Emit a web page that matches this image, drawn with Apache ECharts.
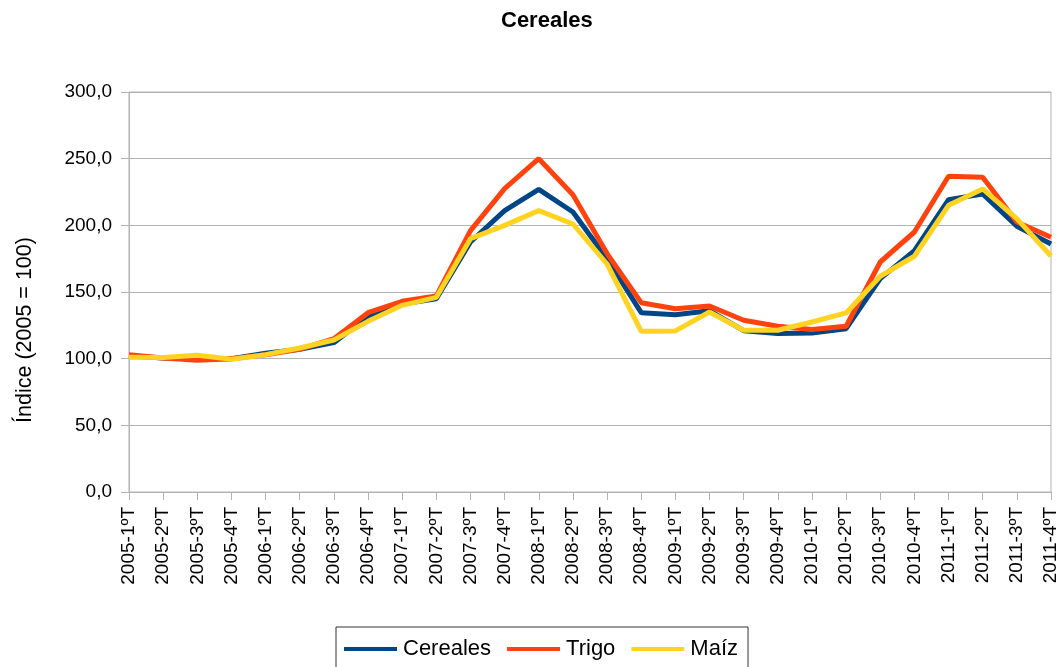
<!DOCTYPE html>
<html>
<head>
<meta charset="utf-8">
<script src="https://cdn.jsdelivr.net/npm/echarts@6/dist/echarts.min.js"></script>
<style>
  html, body { margin: 0; padding: 0; background: #fff; }
  #chart { width: 1063px; height: 667px; }
</style>
</head>
<body>
<div id="chart"></div>
<script>
// trimestres
const categories = [
  '2005-1ºT', '2005-2ºT', '2005-3ºT', '2005-4ºT',
  '2006-1ºT', '2006-2ºT', '2006-3ºT', '2006-4ºT',
  '2007-1ºT', '2007-2ºT', '2007-3ºT', '2007-4ºT',
  '2008-1ºT', '2008-2ºT', '2008-3ºT', '2008-4ºT',
  '2009-1ºT', '2009-2ºT', '2009-3ºT', '2009-4ºT',
  '2010-1ºT', '2010-2ºT', '2010-3ºT', '2010-4ºT',
  '2011-1ºT', '2011-2ºT', '2011-3ºT', '2011-4ºT'
];

const cereales = [102, 100.5, 100, 100, 104, 107, 112, 132, 141, 145, 187.5, 211,
  227, 210, 175, 134.5, 133, 136, 121, 118.8, 119.3, 122.5, 160, 181, 219.3, 223.5, 199.3, 186];
const trigo = [103, 100.5, 98.8, 100, 103, 107, 115, 134.5, 143, 147, 196, 227.5,
  250, 223, 178.8, 142, 137.5, 139.5, 128.8, 124.3, 121.8, 124.3, 172.5, 195, 236.8, 236, 202.5, 191];
const maiz = [101, 100.8, 102.5, 99.5, 103, 108, 114, 128, 140, 146, 190, 200,
  211, 201, 171, 120.5, 120.8, 135, 121.3, 121.3, 127.5, 134.3, 161.8, 176.8, 215, 227.3, 205, 177];

// valores del eje Y
const yMin = 0;
const yMax = 300;
const yStep = 50;

const font = 'Liberation Sans, Arial, sans-serif';

function mkLine(name, data, color) {
  return {
    name: name,
    type: 'line',
    data: data,
    symbol: 'none',
    lineStyle: { color: color, width: 5 },
    itemStyle: { color: color }
  };
}

let chart = echarts.init(document.getElementById('chart'));

let option = {
  animation: false,
  textStyle: { fontFamily: font },
  title: {
    text: 'Cereales',
    left: 496,
    top: 5,
    textStyle: { fontFamily: font, fontSize: 22, fontWeight: 'bold', color: '#000' }
  },
  // título del eje Y (algo desplazado hacia abajo, como en el original)
  graphic: [{
    type: 'text',
    x: 25,
    y: 330,
    rotation: Math.PI / 2,
    style: {
      text: 'Índice (2005 = 100)',
      font: '21.5px Liberation Sans, Arial, sans-serif',
      fill: '#000',
      align: 'center',
      verticalAlign: 'middle'
    }
  }],
  legend: {
    top: 627,
    left: 336,
    data: ['Cereales', 'Trigo', 'Maíz'],
    icon: 'rect',
    itemWidth: 53,
    itemHeight: 4,
    itemGap: 16,
    borderColor: '#333',
    borderWidth: 1,
    padding: [11, 10, 30, 8],
    textStyle: { fontFamily: font, fontSize: 22, color: '#000', padding: [0, 0, 0, 1] }
  },
  grid: {
    left: 129,
    right: 12,
    top: 92,
    bottom: 175,
    show: true,
    borderColor: '#b3b3b3',
    borderWidth: 1
  },
  xAxis: {
    type: 'category',
    data: categories,
    boundaryGap: false,
    axisLine: { lineStyle: { color: '#b3b3b3' } },
    axisTick: { show: true, length: 8, lineStyle: { color: '#b3b3b3' } },
    axisLabel: {
      rotate: 90,
      interval: 0,
      margin: 15,
      color: '#000',
      fontFamily: font,
      fontSize: 19
    }
  },
  yAxis: {
    type: 'value',
    min: yMin,
    max: yMax,
    interval: yStep,
    axisLine: { show: true, lineStyle: { color: '#b3b3b3' } },
    axisTick: { show: true, length: 8, lineStyle: { color: '#b3b3b3' } },
    splitLine: { lineStyle: { color: '#b3b3b3' } },
    axisLabel: {
      color: '#000',
      fontFamily: font,
      fontSize: 19,
      margin: 17,
      formatter: function (v) { return v.toFixed(1).replace('.', ','); }
    }
  },
  series: [
    mkLine('Cereales', cereales, '#004586'),
    mkLine('Trigo', trigo, '#ff420e'),
    mkLine('Maíz', maiz, '#ffd320')
  ]
};

chart.setOption(option);
</script>
</body>
</html>
